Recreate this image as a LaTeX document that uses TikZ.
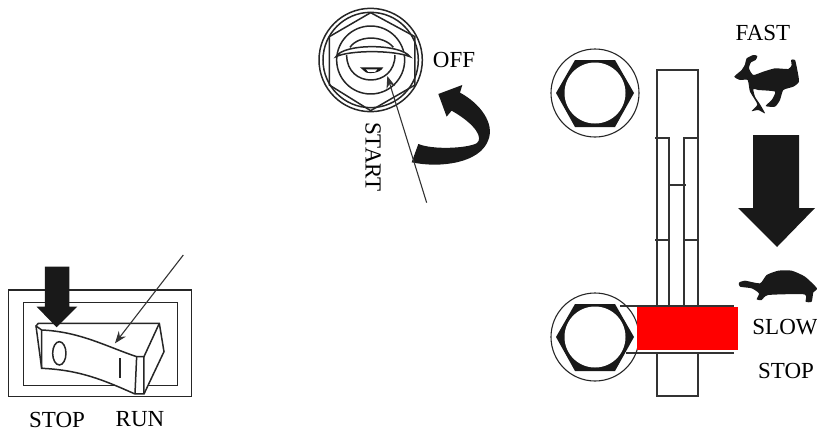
\documentclass[tikz,border=0pt]{standalone}
\usepackage{fontspec}
\setmainfont{Liberation Serif}
\usetikzlibrary{arrows.meta,positioning,calc}
\tikzset{
  thinln/.style={line width=1.3pt, black!80},
  partln/.style={line width=1.5pt, black!85},
  pointer/.style={-{Stealth[length=12pt,width=9pt]}, line width=1.1pt, black!80},
  solidblk/.style={fill=black!90, draw=none},
  lab/.style={font=\fontsize{23}{24}\selectfont, inner sep=0pt},
}
\begin{document}
\begin{tikzpicture}[x=1pt, y=-1pt]
    \useasboundingbox (0,0) rectangle (817,432);
    % rocker switch
    \begin{scope}[shift={(0pt,-240pt)}, x=0.3333pt, y=-0.3333pt]
      \draw[partln] (25,150) rectangle (575,470);
      \draw[partln] (70,187) rectangle (532,437);
      \draw[partln, fill=white] (108,258) -- (125,385) .. controls (240,390) and (310,420) .. (405,462) -- (432,462) -- (492,335) -- (478,250) -- (115,250) -- cycle;
      \draw[partln] (108,258) -- (125,270) .. controls (240,275) and (320,320) .. (410,350) -- (432,350) -- (478,250);
      \draw[partln] (125,270) -- (125,385) (432,350) -- (432,462) (410,350) -- (405,462);
      \draw[partln] (178,340) ellipse (20 and 35);
      \draw[line width=2.6pt, black!85] (360,355) -- (360,415);
      \fill[solidblk] (135,80) -- (208,80) -- (208,200) -- (232,200) -- (170,262) -- (110,200) -- (135,200) -- cycle;
      \coordinate (runfrom) at (550,45);
      \coordinate (runto) at (345,310);
    \end{scope}
    \draw[pointer] (runfrom) -- (runto);
    \node[lab] (stoplab) at (57,420) {STOP};
    \node[lab] (runlab) at (140,419) {RUN};
    % key switch
    \begin{scope}[shift={(300pt,0pt)}, x=0.3333pt, y=-0.3333pt]
      \draw[partln] (212,180) circle (155);
      \draw[partln] (212,180) circle (143);
      \draw[partln] (212,38) -- (345,110) -- (345,255) -- (212,332) -- (88,255) -- (88,110) -- cycle;
      \draw[partln] (212,180) circle (102);
      \draw[partln] (150,142) .. controls (175,105) and (250,105) .. (280,142);
      \draw[partln, fill=white] (108,170) .. controls (130,130) and (300,130) .. (330,170) .. controls (280,150) and (150,150) .. (108,170) -- cycle;
      \draw[partln] (140,165) .. controls (140,265) and (285,265) .. (285,165);
      \fill[solidblk] (180,202) -- (250,202) .. controls (240,222) and (200,222) .. (195,215) -- cycle;
      \fill[white] (198,208) -- (232,208) -- (225,216) -- (205,216) -- cycle;
      \fill[solidblk] (355,432) .. controls (400,450) and (500,445) .. (530,430) .. controls (550,415) and (530,375) .. (455,332) -- (440,350) -- (415,282) -- (487,255) -- (480,278) .. controls (540,310) and (585,370) .. (565,420) .. controls (540,490) and (420,505) .. (335,487) -- cycle;
      \coordinate (startfrom) at (380,608);
      \coordinate (startto) at (262,228);
    \end{scope}
    \draw[pointer] (startfrom) -- (startto);
    \node[lab] (offlab) at (454,60) {OFF};
    \node[lab, rotate=-90] (startlab) at (373,157) {START};
    % speed lever rails
    \draw[thinln] (657,138) -- (657,70) -- (698,70) -- (698,138);
    \draw[thinln] (657,138) -- (657,306) (698,138) -- (698,306);
    \draw[thinln] (669,138) -- (669,306) (684,138) -- (684,306);
    \draw[thinln] (655,138) -- (670,138) (683,138) -- (698,138);
    \draw[thinln] (668,185) -- (686,185);
    \draw[thinln] (655,240) -- (670,240) (683,240) -- (698,240);
    \draw[thinln] (657,352) -- (657,396) -- (698,396) -- (698,352);
    \draw[thinln] (620,306) -- (734,306) (626,353) -- (734,353);
    % bolts
    \foreach \nm/\yy in {boltA/93,boltB/337}{
      \node[circle, draw=black!85, line width=1.1pt, minimum size=88pt, inner sep=0pt] (\nm) at (595,\yy) {};
      \fill[solidblk] (556,\yy) -- ++(19,-33) -- ++(40,0) -- ++(19,33) -- ++(-19,34) -- ++(-40,0) -- cycle;
      \fill[white] (595,\yy) circle (30.5);
    }
    \fill[red] (637,307) rectangle (738,350);
    % speed arrow and animals
    \fill[solidblk] (753,135) -- (799,135) -- (799,208) -- (815,208) -- (777,247) -- (738,208) -- (753,208) -- cycle;
    \begin{scope}[shift={(725pt,-45pt)}, x=0.3333pt, y=-0.3333pt]
      \fill[solidblk] plot[smooth cycle, tension=0.35] coordinates {(28,95) (50,75) (60,58) (65,40) (85,30) (97,33) (92,45) (78,52) (72,70) (85,90) (115,80) (150,70) (190,72) (200,60) (198,45) (210,45) (217,75) (222,110) (205,125) (175,135) (165,165) (150,185) (122,183) (140,165) (150,140) (100,135) (85,132) (90,155) (105,178) (120,205) (100,195) (80,198) (97,178) (75,140) (68,105) (45,105)};
    \end{scope}
    \begin{scope}[shift={(735pt,-260pt)}, x=0.3333pt, y=-0.3333pt]
      \fill[solidblk] plot[smooth cycle, tension=0.35] coordinates {(12,68) (30,62) (75,70) (95,45) (130,32) (170,32) (210,50) (246,85) (235,97) (230,125) (212,125) (208,103) (100,105) (80,120) (65,118) (72,100) (50,85) (15,80)};
    \end{scope}
    \node[lab] (fastlab) at (763,33) {FAST};
    \node[lab] (slowlab) at (785,327) {SLOW};
    \node[lab] (stoplabB) at (786,371) {STOP};
\end{tikzpicture}
\end{document}
